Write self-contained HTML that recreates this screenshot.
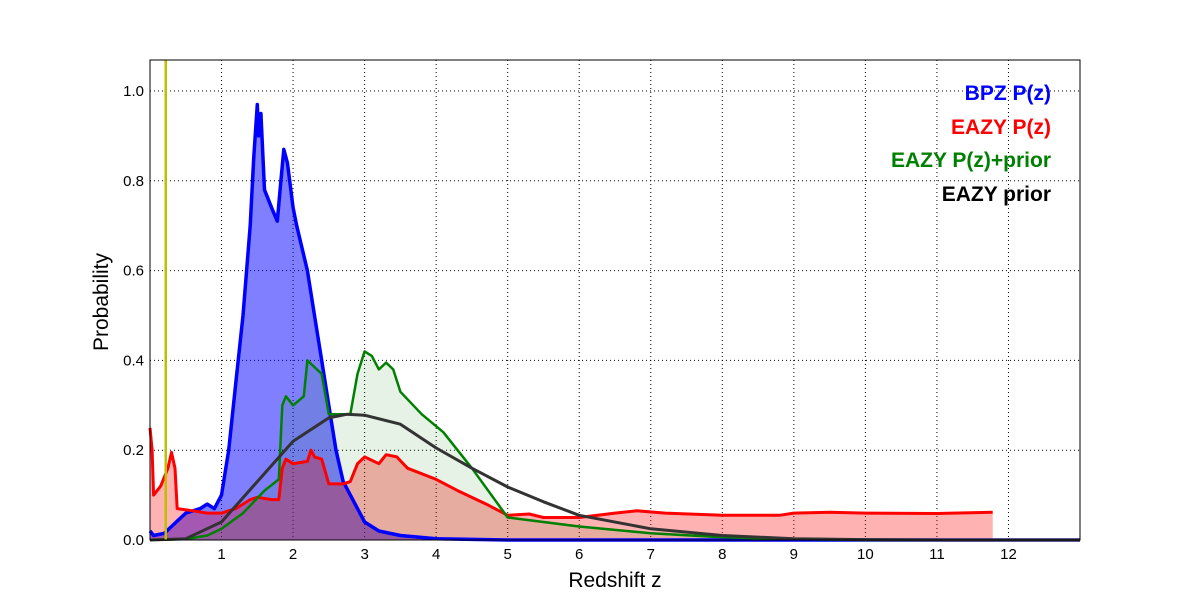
<!DOCTYPE html>
<html><head><meta charset="utf-8"><style>
body{margin:0;background:#fff;}
svg{display:block;font-family:"Liberation Sans","DejaVu Sans",sans-serif;}
</style></head><body>
<svg id="chart" width="1200" height="600" viewBox="0 0 1200 600" xmlns="http://www.w3.org/2000/svg">
<rect width="1200" height="600" fill="#fff"/>
<g id="grid"></g>
<g id="series"></g>
<rect x="150" y="60" width="930" height="480" fill="none" stroke="#000" stroke-width="1"/>
<g id="ticks"></g>
<text x="615" y="587" font-size="21" text-anchor="middle">Redshift z</text>
<text x="108" y="302" font-size="21" text-anchor="middle" transform="rotate(-90 108 302)">Probability</text>
<g font-size="21" font-weight="bold" text-anchor="end">
<text x="1051" y="100" fill="#0000ff">BPZ P(z)</text>
<text x="1051" y="134" fill="#ff0000">EAZY P(z)</text>
<text x="1051" y="167" fill="#008000">EAZY P(z)+prior</text>
<text x="1051" y="201" fill="#000">EAZY prior</text>
</g>
</svg>
<script>
const xTicks=[1,2,3,4,5,6,7,8,9,10,11,12];
const yTicks=[0.0,0.2,0.4,0.6,0.8,1.0];
const bpzZ=[0,0.05,0.2,0.3,0.4,0.5,0.7,0.8,0.9,1.0,1.1,1.2,1.3,1.4,1.45,1.5,1.52,1.55,1.6,1.7,1.78,1.83,1.87,1.92,2.0,2.05,2.2,2.3,2.4,2.5,2.6,2.7,2.9,3.0,3.2,3.5,4,5,13];
const bpzP=[0.02,0.01,0.015,0.03,0.045,0.06,0.07,0.08,0.07,0.1,0.2,0.35,0.5,0.7,0.85,0.97,0.9,0.95,0.78,0.74,0.71,0.8,0.87,0.84,0.74,0.7,0.6,0.5,0.4,0.3,0.2,0.13,0.07,0.04,0.02,0.01,0.003,0,0];
const eazyZ=[0,0.03,0.05,0.15,0.25,0.3,0.35,0.38,0.6,0.8,1.0,1.2,1.4,1.5,1.7,1.8,1.85,1.9,2.0,2.2,2.25,2.3,2.4,2.5,2.7,2.8,2.9,3.0,3.2,3.3,3.45,3.6,4.0,4.3,4.7,5.0,5.3,5.5,6.0,6.5,6.8,7.2,8.0,8.8,9.0,9.5,10,11,11.78];
const eazyP=[0.25,0.2,0.1,0.12,0.16,0.195,0.16,0.07,0.065,0.06,0.06,0.07,0.09,0.095,0.09,0.09,0.16,0.18,0.17,0.175,0.2,0.185,0.18,0.125,0.125,0.13,0.17,0.185,0.17,0.19,0.185,0.16,0.135,0.11,0.08,0.055,0.058,0.05,0.05,0.06,0.065,0.06,0.055,0.055,0.06,0.062,0.06,0.059,0.062];
const combZ=[0,0.5,0.8,1.0,1.3,1.6,1.8,1.85,1.9,2.0,2.15,2.2,2.3,2.4,2.5,2.7,2.8,2.9,3.0,3.1,3.2,3.3,3.4,3.5,3.8,4.1,4.5,5.0,5.5,6,7,8,9,10,13];
const combP=[0,0.002,0.01,0.025,0.06,0.11,0.135,0.3,0.32,0.3,0.32,0.4,0.385,0.37,0.28,0.28,0.28,0.37,0.42,0.41,0.38,0.395,0.38,0.33,0.28,0.24,0.16,0.05,0.04,0.03,0.015,0.006,0.002,0,0];
const priorZ=[0,0.5,1,1.5,2,2.5,2.75,3,3.5,4,4.5,5,5.5,6,7,8,9,10,11,13];
const priorP=[0,0.003,0.04,0.13,0.22,0.272,0.28,0.278,0.258,0.205,0.16,0.118,0.085,0.055,0.025,0.01,0.003,0.001,0,0];
const markerZ=[0.22];

const X=z=>150+z*930/13, Y=p=>540-p*449;
const NS="http://www.w3.org/2000/svg";
function el(tag,attrs,parent){const e=document.createElementNS(NS,tag);for(const k in attrs)e.setAttribute(k,attrs[k]);parent.appendChild(e);return e;}
const grid=document.getElementById('grid'),ticks=document.getElementById('ticks'),S=document.getElementById('series');
xTicks.forEach(t=>{
  const g=el('line',{x1:X(t),x2:X(t),y1:60,y2:540,stroke:'#000','stroke-dasharray':'1,3','stroke-width':1},grid);
  
  
  const l=el('text',{x:X(t),y:559,'font-size':15,'text-anchor':'middle'},ticks);
  l.textContent=t;
  
  
});
yTicks.forEach(t=>{
  const g=el('line',{x1:150,x2:1080,y1:Y(t),y2:Y(t),stroke:'#000','stroke-dasharray':'1,3','stroke-width':1},grid);
  
  
  const l=el('text',{x:144,y:Y(t)+5,'font-size':15,'text-anchor':'end'},ticks);
  l.textContent=t.toFixed(1);
  
  
});
function pts(zs,ps){return zs.map((z,i)=>X(z).toFixed(1)+','+Y(ps[i]).toFixed(1)).join(' L');}
function area(zs,ps,fill,op,name){
  const d='M'+X(zs[0])+','+Y(0)+' L'+pts(zs,ps)+' L'+X(zs[zs.length-1])+','+Y(0)+' Z';
  const a=el('path',{d:d,fill:fill,'fill-opacity':op,stroke:'none'},S);
  
  
}
function line(zs,ps,col,w,name){
  const l=el('path',{d:'M'+pts(zs,ps),fill:'none',stroke:col,'stroke-width':w,'stroke-linejoin':'round'},S);
  
  
}
area(bpzZ,bpzP,'#0000ff',0.5,'bpz-area');
area(eazyZ,eazyP,'#ff0000',0.3,'eazy-area');
area(combZ,combP,'#008000',0.1,'eazy-prior-combined-area');
line(bpzZ,bpzP,'#0000ff',3.5,'bpz-line');
line(eazyZ,eazyP,'#ff0000',3,'eazy-line');
line(combZ,combP,'#008000',2.5,'eazy-prior-combined-line');
line(priorZ,priorP,'#333333',3,'eazy-prior-line');
markerZ.forEach(z=>{
  const m=el('line',{x1:X(z),x2:X(z),y1:60,y2:540,stroke:'#bfbf00','stroke-width':2.5},S);
  
  
});
</script>
</body></html>
